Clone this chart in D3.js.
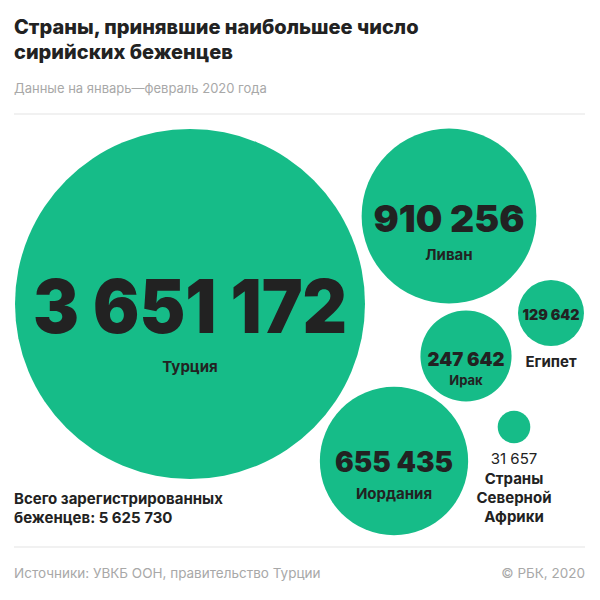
<!DOCTYPE html>
<html>
<head>
<meta charset="utf-8">
<script src="https://cdn.jsdelivr.net/npm/d3@7"></script>
<style>
  body { margin: 0; background: #fff; }
  text { font-family: Inter, "Noto Sans", sans-serif; }
</style>
</head>
<body>
<svg id="chart" width="600" height="600"></svg>
<script>
// data: Syrian refugees by host country, Jan-Feb 2020
const countries = ["Турция", "Ливан", "Египет", "Ирак", "Иордания", "Страны Северной Африки"];
const refugees = [3651172, 910256, 129642, 247642, 655435, 31657];
const totalRefugees = 5625730;

// layout: bubble centres and label placement (px)
const centres = [[190, 304], [449, 216], [551, 313], [466, 356], [394, 461], [514, 427]];
const numStyle = [
  { size: 74, dy: 29, w: 314 },
  { size: 37, dy: 16, w: 151 },
  { size: 15, dy: 7, w: 57 },
  { size: 19, dy: 10, w: 77 },
  { size: 28, dy: 11, w: 118 }
];

const green = "#16bc88", ink = "#222", grey = "#a8a8a8", rule = "#e3e3e3";
const fmt = v => d3.format(",")(v).replace(/,/g, "\u00a0");
// tighter group gap for the big bubble numbers
const fmtBig = v => d3.format(",")(v).replace(/,/g, "\u2009\u200a");

const svg = d3.select("#chart");
const r = d3.scaleSqrt().domain([0, d3.max(refugees)]).range([0, 175]);

// header
svg.append("text").attr("x", 14).attr("y", 34)
  .attr("font-size", 20).attr("font-weight", 800).attr("fill", ink)
  .text("Страны, принявшие наибольшее число");
svg.append("text").attr("x", 14).attr("y", 59)
  .attr("font-size", 20).attr("font-weight", 800).attr("fill", ink)
  .text("сирийских беженцев");
svg.append("text").attr("x", 14).attr("y", 93)
  .attr("font-size", 13).attr("fill", grey)
  .text("Данные на январь—февраль 2020 года");
svg.append("line").attr("x1", 14).attr("x2", 585).attr("y1", 114).attr("y2", 114)
  .attr("stroke", rule);

// bubbles
const data = countries.map((c, i) => ({ name: c, value: refugees[i], cx: centres[i][0], cy: centres[i][1] }));

svg.append("g").selectAll("circle").data(data).join("circle")
  .attr("cx", d => d.cx).attr("cy", d => d.cy)
  .attr("r", d => r(d.value))
  .attr("fill", green);

// numbers inside the bubbles
const inside = data.slice(0, 5);
svg.append("g").selectAll("text").data(inside).join("text")
  .attr("x", d => d.cx)
  .attr("y", (d, i) => d.cy + numStyle[i].dy)
  .attr("text-anchor", "middle")
  .attr("font-size", (d, i) => numStyle[i].size)
  .attr("font-weight", 900)
  .attr("fill", ink)
  .attr("textLength", (d, i) => numStyle[i].w)
  .attr("lengthAdjust", "spacingAndGlyphs")
  .text(d => fmtBig(d.value));

// country names
const nameY = [372, 260, 367, 385, 499];
svg.append("g").selectAll("text").data(inside).join("text")
  .attr("x", d => d.cx)
  .attr("y", (d, i) => nameY[i])
  .attr("text-anchor", "middle")
  .attr("font-size", (d, i) => i === 3 ? 13 : 15)
  .attr("font-weight", 700)
  .attr("fill", ink)
  .text(d => d.name);

// North Africa: value and name below the small bubble
const na = data[5];
svg.append("text").attr("x", na.cx).attr("y", 464)
  .attr("text-anchor", "middle").attr("font-size", 15).attr("fill", ink)
  .text(fmt(na.value));
["Страны", "Северной", "Африки"].forEach((t, i) => {
  svg.append("text").attr("x", na.cx).attr("y", 484 + i * 19)
    .attr("text-anchor", "middle").attr("font-size", 15).attr("font-weight", 700)
    .attr("fill", ink).text(t);
});

// total
svg.append("text").attr("x", 14).attr("y", 504)
  .attr("font-size", 15).attr("font-weight", 700).attr("fill", ink)
  .text("Всего зарегистрированных");
svg.append("text").attr("x", 14).attr("y", 523)
  .attr("font-size", 15).attr("font-weight", 700).attr("fill", ink)
  .text("беженцев: " + fmt(totalRefugees));

// footer
svg.append("line").attr("x1", 14).attr("x2", 585).attr("y1", 547).attr("y2", 547)
  .attr("stroke", rule);
svg.append("text").attr("x", 14).attr("y", 578)
  .attr("font-size", 13.5).attr("fill", grey)
  .text("Источники: УВКБ ООН, правительство Турции");
svg.append("text").attr("x", 585).attr("y", 578).attr("text-anchor", "end")
  .attr("font-size", 13.5).attr("fill", grey)
  .text("© РБК, 2020");
</script>
</body>
</html>
